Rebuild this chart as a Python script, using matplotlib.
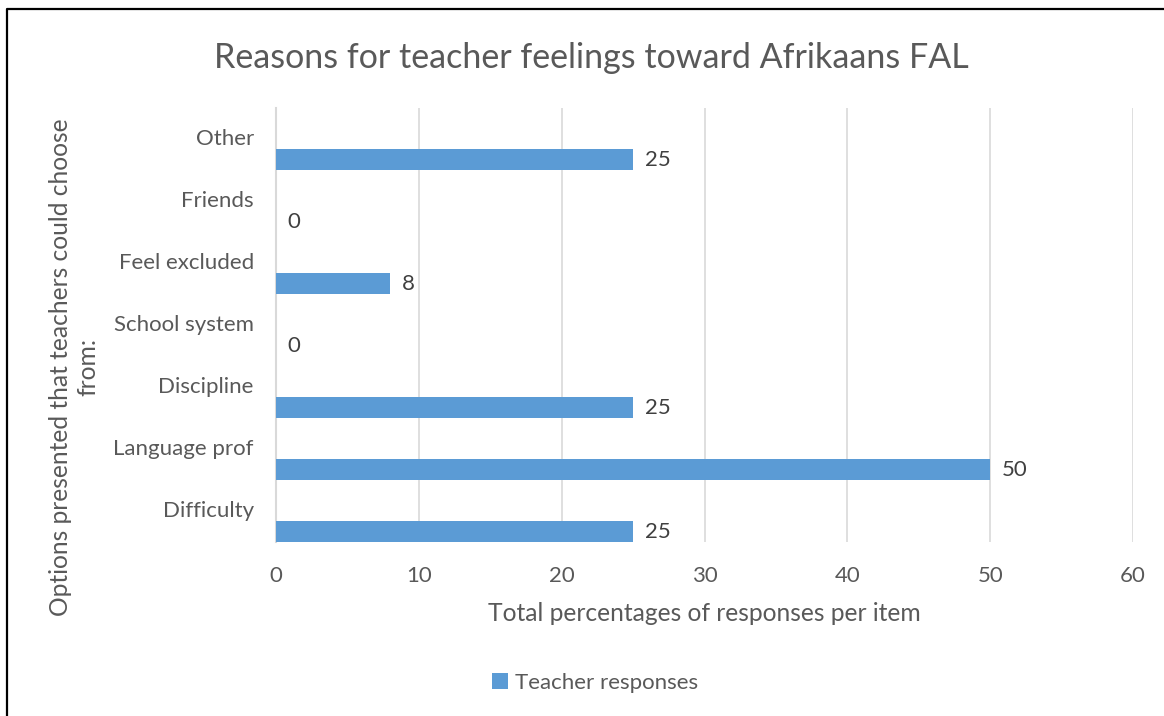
import numpy as np
import matplotlib.pyplot as plt
from matplotlib.lines import Line2D

categories = ['Difficulty', 'Language prof', 'Discipline', 'School system',
              'Feel excluded', 'Friends', 'Other']
values = [25, 50, 25, 0, 8, 0, 25]
series_name = 'Teacher responses'
xticks = [0, 10, 20, 30, 40, 50, 60]

bar_color = '#5b9bd5'
grey = '#595959'
label_color = '#404040'
plt.rcParams['font.family'] = ['Lato', 'DejaVu Sans']

fig = plt.figure(figsize=(11.64, 7.16), dpi=100)
ax = fig.add_axes([0.2371, 0.2430, 0.7363, 0.6062])

# Excel-style cluster: bar sits in the lowest third of each category band
y = np.arange(len(categories))
bh = 1 / 3
ax.barh(y, values, height=bh, align='edge', color=bar_color, label=series_name, zorder=3)
for yi, v in zip(y, values):
    ax.text(v + 0.8, yi + bh / 2, str(v), va='center', ha='left',
            fontsize=16, color=label_color)

ax.set_ylim(0, len(categories))
ax.set_xlim(0, 60)
ax.set_yticks(y + 0.5)
ax.set_yticklabels(categories, va='center')
ax.set_xticks(xticks)
ax.tick_params(axis='both', length=0, labelsize=16, colors=grey)
ax.tick_params(axis='y', pad=16)
ax.tick_params(axis='x', pad=17)
ax.grid(axis='x', color='#d9d9d9', linewidth=1.2, zorder=0)
for s in ['top', 'right', 'bottom']:
    ax.spines[s].set_visible(False)
ax.spines['left'].set_color('#d9d9d9')
ax.spines['left'].set_linewidth(1.5)

ax.set_xlabel('Total percentages of responses per item', fontsize=17.7, color=grey, labelpad=12)
fig.text(0.0636, 0.487, 'Options presented that teachers could choose\nfrom:', rotation=90,
         ha='center', va='center', fontsize=17.7, color=grey, linespacing=1.25)

fig.text(0.508, 0.919, 'Reasons for teacher feelings toward Afrikaans FAL',
         ha='center', va='center', fontsize=24.5, color=grey)

fig.legend(loc='center', bbox_to_anchor=(0.511, 0.046), frameon=False, fontsize=16,
           handlelength=0.75, handleheight=0.75, handletextpad=0.3, labelcolor=grey)

# chart border (top and left edges visible)
fig.add_artist(Line2D([0.006, 0.006, 1.0], [0.0, 0.9874, 0.9874],
                      transform=fig.transFigure, color='black', linewidth=1.6))

fig.savefig('out.png', dpi=100)
